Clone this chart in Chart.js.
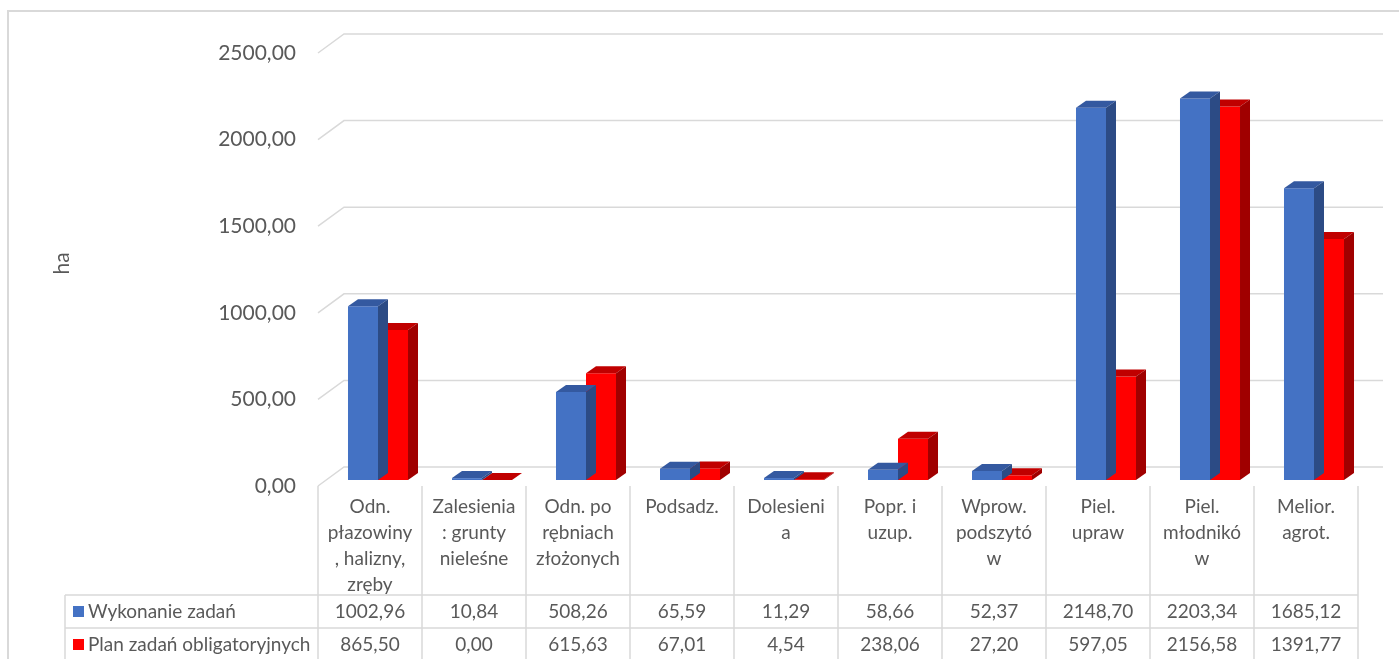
<!DOCTYPE html>
<html lang="pl">
<head>
<meta charset="utf-8">
<title>Wykonanie zadań</title>
<script src="https://cdn.jsdelivr.net/npm/chart.js@4"></script>
<style>
  html, body { margin: 0; padding: 0; background: #fff; }
</style>
</head>
<body>
<canvas id="zadaniaChart" width="1399" height="659"></canvas>
<script>
// Category labels, wrapped line by line like the table header
const categories = [
    ['Odn.', 'płazowiny', ', halizny,', 'zręby'],
    ['Zalesienia', ': grunty', 'nieleśne'],
    ['Odn. po', 'rębniach', 'złożonych'],
    ['Podsadz.'],
    ['Dolesieni', 'a'],
    ['Popr. i', 'uzup.'],
    ['Wprow.', 'podszytó', 'w'],
    ['Piel.', 'upraw'],
    ['Piel.', 'młodnikó', 'w'],
    ['Melior.', 'agrot.']
];
const seriesNames = ['Wykonanie zadań', 'Plan zadań obligatoryjnych'];
const wykonanie = [1002.96, 10.84, 508.26, 65.59, 11.29, 58.66, 52.37, 2148.70, 2203.34, 1685.12];
const plan = [865.50, 0.00, 615.63, 67.01, 4.54, 238.06, 27.20, 597.05, 2156.58, 1391.77];
const yTicks = [0, 500, 1000, 1500, 2000, 2500];

// Front, top and side colours of each series
const shades = [
    { front: '#4472C4', top: '#3459A0', side: '#2C4B85' },
    { front: '#FF0000', top: '#C00000', side: '#A00000' }
];

const GRID = '#d9d9d9';
const TEXT = '#595959';
const FONT = 'Lato, "Open Sans", sans-serif';

// Polish number format: 1002,96
function fmt(v) {
    return v.toFixed(2).replace('.', ',');
}

// Bars sit a third of the way into the floor depth
const FRONT_DX = -8, FRONT_DY = 6;   // from bar plane to front edge
const WALL_DX = 26, WALL_DY = 19;    // from front edge to back wall
const BAR_DX = 10, BAR_DY = 7;       // bar depth

const depth3d = {
    id: 'depth3d',
    beforeDatasetsDraw(chart) {
        const { ctx, chartArea, scales: { y } } = chart;
        const fx = chartArea.left + FRONT_DX;
        ctx.save();
        ctx.strokeStyle = GRID;
        ctx.lineWidth = 1.5;
        yTicks.forEach(v => {
            const yf = y.getPixelForValue(v) + FRONT_DY;
            ctx.beginPath();
            ctx.moveTo(fx, yf);
            ctx.lineTo(fx + WALL_DX, yf - WALL_DY);
            ctx.lineTo(chartArea.right + 17, yf - WALL_DY);
            ctx.stroke();
        });
        ctx.restore();
    },
    afterDatasetDraw(chart, args) {
        const ctx = chart.ctx;
        const shade = shades[args.index];
        ctx.save();
        args.meta.data.forEach(bar => {
            const { x, y, base, width } = bar.getProps(['x', 'y', 'base', 'width'], true);
            const l = x - width / 2, r = x + width / 2;
            // top face
            ctx.fillStyle = shade.top;
            ctx.beginPath();
            ctx.moveTo(l, y);
            ctx.lineTo(r, y);
            ctx.lineTo(r + BAR_DX, y - BAR_DY);
            ctx.lineTo(l + BAR_DX, y - BAR_DY);
            ctx.closePath();
            ctx.fill();
            // right side face
            ctx.fillStyle = shade.side;
            ctx.beginPath();
            ctx.moveTo(r, y);
            ctx.lineTo(r + BAR_DX, y - BAR_DY);
            ctx.lineTo(r + BAR_DX, base - BAR_DY);
            ctx.lineTo(r, base);
            ctx.closePath();
            ctx.fill();
        });
        ctx.restore();
    }
};

// Data table under the axis, with legend keys in the first column
const dataTable = {
    id: 'dataTable',
    afterDraw(chart) {
        const { ctx, scales: { x, y } } = chart;
        const H = chart.height, W = chart.width;
        const half = (x.getPixelForValue(1) - x.getPixelForValue(0)) / 2;
        const edges = [];
        for (let i = 0; i <= categories.length; i++) {
            edges.push(x.getPixelForValue(0) - half + FRONT_DX + i * half * 2);
        }
        const top = y.getPixelForValue(0) + FRONT_DY;
        const rowTops = [595, 628, 661];
        const tableLeft = 65;

        ctx.save();
        // outer chart border
        ctx.strokeStyle = GRID;
        ctx.lineWidth = 2;
        ctx.beginPath();
        ctx.moveTo(8, H);
        ctx.lineTo(8, 11);
        ctx.lineTo(W, 11);
        ctx.stroke();

        ctx.lineWidth = 1.5;
        ctx.beginPath();
        edges.forEach(ex => {
            ctx.moveTo(ex, top);
            ctx.lineTo(ex, H);
        });
        ctx.moveTo(tableLeft, rowTops[0]);
        ctx.lineTo(tableLeft, H);
        rowTops.forEach(ry => {
            ctx.moveTo(tableLeft, ry);
            ctx.lineTo(edges[edges.length - 1], ry);
        });
        ctx.stroke();

        const rows = [wykonanie, plan];
        ctx.font = '19px ' + FONT;
        ctx.textBaseline = 'middle';
        rows.forEach((vals, r) => {
            const cy = (rowTops[r] + rowTops[r + 1]) / 2;
            ctx.fillStyle = shades[r].front;
            ctx.fillRect(tableLeft + 8, cy - 5.5, 11, 11);
            ctx.fillStyle = TEXT;
            ctx.textAlign = 'left';
            ctx.fillText(seriesNames[r], tableLeft + 23, cy);
            ctx.textAlign = 'center';
            vals.forEach((v, i) => {
                ctx.fillText(fmt(v), (edges[i] + edges[i + 1]) / 2, cy);
            });
        });
        ctx.restore();
    }
};

new Chart(document.getElementById('zadaniaChart'), {
    type: 'bar',
    data: {
        labels: categories,
        datasets: [
            { label: seriesNames[0], data: wykonanie, backgroundColor: shades[0].front },
            { label: seriesNames[1], data: plan, backgroundColor: shades[1].front }
        ]
    },
    options: {
        responsive: false,
        animation: false,
        layout: { padding: { top: 47, right: 33, left: 0, bottom: 0 } },
        datasets: {
            bar: { categoryPercentage: 0.577, barPercentage: 1.0, borderWidth: 0 }
        },
        scales: {
            x: {
                grid: { display: false, drawTicks: false },
                border: { display: false },
                ticks: {
                    color: TEXT,
                    font: { family: FONT, size: 19, lineHeight: '26px' },
                    padding: 14,
                    labelOffset: FRONT_DX,
                    maxRotation: 0,
                    autoSkip: false
                },
                afterFit(scale) { scale.height = 179; }
            },
            y: {
                min: 0,
                max: 2500,
                grid: { display: false, drawTicks: false },
                border: { display: false },
                ticks: {
                    stepSize: 500,
                    color: TEXT,
                    font: { family: FONT, size: 21 },
                    padding: 30,
                    labelOffset: FRONT_DY,
                    callback: v => fmt(v)
                },
                title: {
                    display: true,
                    text: 'ha',
                    color: TEXT,
                    font: { family: FONT, size: 21 },
                    padding: { top: 50, bottom: 0 }
                },
                afterFit(scale) { scale.width = 326; }
            }
        },
        plugins: {
            legend: { display: false },
            tooltip: { enabled: false }
        }
    },
    plugins: [depth3d, dataTable]
});
</script>
</body>
</html>
